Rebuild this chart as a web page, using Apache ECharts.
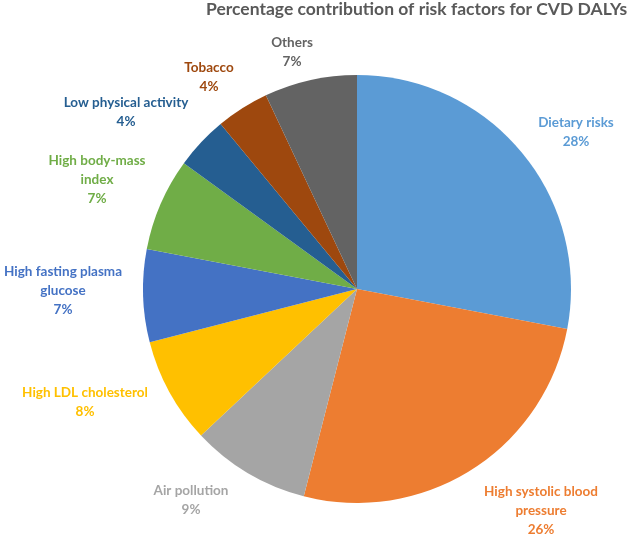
<!DOCTYPE html>
<html>
<head>
<meta charset="utf-8">
<script src="https://cdn.jsdelivr.net/npm/echarts@6/dist/echarts.min.js"></script>
<style>
html,body{margin:0;padding:0;background:#fff;}
#chart{width:630px;height:535px;}
</style>
</head>
<body>
<div id="chart"></div>
<script>
// ---- data ----
const categories = [
  "Dietary risks",
  "High systolic blood\npressure",
  "Air pollution",
  "High LDL cholesterol",
  "High fasting plasma\nglucose",
  "High body-mass\nindex",
  "Low physical activity",
  "Tobacco",
  "Others"
];
const percentages = [28, 26, 9, 8, 7, 7, 4, 4, 7];
const colors = ["#5B9BD5", "#ED7D31", "#A5A5A5", "#FFC000", "#4472C4", "#70AD47", "#255E91", "#9E480E", "#636363"];
const titleText = "Percentage contribution of risk factors for CVD DALYs";

// ---- layout (label anchor centres, px) ----
const labelCenters = [[576,132],[541,511],[191,500],[85,402],[63,291],[97,180],[126,112],[209,77],[292,52]];

const chart = echarts.init(document.getElementById('chart'), null, {renderer:'canvas'});
chart.setOption({
  backgroundColor: '#fff',
  animation: false,
  title: {
    text: titleText,
    left: 206,
    top: 0,
    padding: 0,
    textStyle: {fontFamily: "Lato", fontWeight: 'bold', fontSize: 17.5, color: '#595959'}
  },
  series: [{
    type: 'pie',
    center: [357, 289],
    radius: 214,
    startAngle: 90,
    clockwise: true,
    data: categories.map((c, i) => ({
      name: c,
      value: percentages[i],
      itemStyle: {color: colors[i]},
      label: {color: colors[i]}
    })),
    itemStyle: {borderColor: '#fff', borderWidth: 0},
    label: {
      show: true,
      position: 'outside',
      formatter: '{b}\n{c}%',
      fontFamily: 'Lato',
      fontWeight: 'bold',
      fontSize: 13.5,
      lineHeight: 19,
      align: 'center',
      overflow: 'none',
      width: 200
    },
    labelLine: {show: false},
    labelLayout: function (params) {
      const p = labelCenters[params.dataIndex];
      return {x: p[0], y: p[1], align: 'center', verticalAlign: 'middle'};
    }
  }]
});
</script>
</body>
</html>
